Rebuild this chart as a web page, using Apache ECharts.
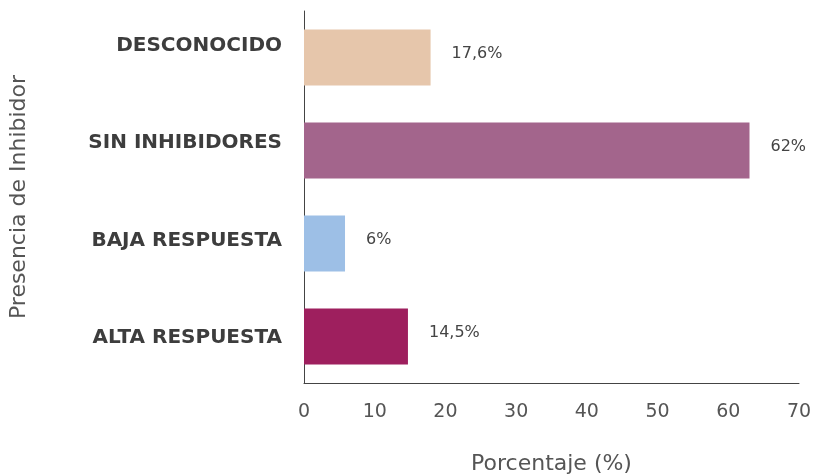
<!DOCTYPE html>
<html>
<head>
<meta charset="utf-8">
<script src="https://cdn.jsdelivr.net/npm/echarts@6/dist/echarts.min.js"></script>
<style>
  html, body { margin: 0; padding: 0; background: #fff; }
  #main { width: 814px; height: 474px; }
</style>
</head>
<body>
<div id="main"></div>
<script>
// categorias (de arriba hacia abajo)
var categorias = ['DESCONOCIDO', 'SIN INHIBIDORES', 'BAJA RESPUESTA', 'ALTA RESPUESTA'];
// largo de barra
var valores = [17.9, 63, 5.8, 14.7];
// etiquetas tal como aparecen
var etiquetas = ['17,6%', '62%', '6%', '14,5%'];
var colores = ['#E6C6AB', '#A3658C', '#9DBFE6', '#9E1F5E'];
var ticksX = [0, 10, 20, 30, 40, 50, 60, 70];

var fuente = 'DejaVu Sans';
var chart = echarts.init(document.getElementById('main'));

// en el original los nombres de categoria no quedan centrados en la barra
var estiloCat = { fontFamily: fuente, fontWeight: 'bold', fontSize: 20, color: '#3d3d3d' };
var rich = {
  c0: Object.assign({ padding: [0, 0, 24, 0] }, estiloCat),
  c1: Object.assign({ padding: [0, 0, 16, 0] }, estiloCat),
  c2: Object.assign({ padding: [0, 0, 6, 0] }, estiloCat),
  c3: Object.assign({ padding: [2, 0, 0, 0] }, estiloCat)
};

var option = {
  animation: false,
  grid: { left: 304, right: 15, top: 11, bottom: 91, outerBoundsMode: 'none' },
  xAxis: {
    type: 'value',
    min: ticksX[0],
    max: ticksX[ticksX.length - 1],
    interval: ticksX[1] - ticksX[0],
    name: 'Porcentaje (%)',
    nameLocation: 'middle',
    nameGap: 70,
    nameTextStyle: { fontFamily: fuente, fontSize: 22, color: '#555' },
    axisLine: { show: true, lineStyle: { color: '#444', width: 1 } },
    axisTick: { show: false },
    splitLine: { show: false },
    axisLabel: { fontFamily: fuente, fontSize: 19, color: '#555', margin: 20 }
  },
  yAxis: {
    type: 'category',
    data: categorias,
    inverse: true,
    name: 'Presencia de Inhibidor',
    nameLocation: 'middle',
    nameRotate: 90,
    nameGap: 274,
    nameTextStyle: { fontFamily: fuente, fontSize: 22, color: '#555' },
    axisLine: { show: true, lineStyle: { color: '#444', width: 1 } },
    axisTick: { show: false },
    axisLabel: {
      fontFamily: fuente, fontWeight: 'bold', fontSize: 20, color: '#3d3d3d', margin: 22,
      formatter: function (v, i) { return '{c' + i + '|' + v + '}'; },
      rich: rich
    }
  },
  series: [{
    type: 'bar',
    barWidth: 56,
    data: valores.map(function (v, i) {
      return { value: v, itemStyle: { color: colores[i] } };
    }),
    label: {
      show: true,
      position: 'right',
      distance: 21,
      offset: [0, -4],
      fontFamily: fuente,
      fontSize: 16,
      color: '#444',
      formatter: function (p) { return etiquetas[p.dataIndex]; }
    }
  }]
};

chart.setOption(option);
</script>
</body>
</html>
